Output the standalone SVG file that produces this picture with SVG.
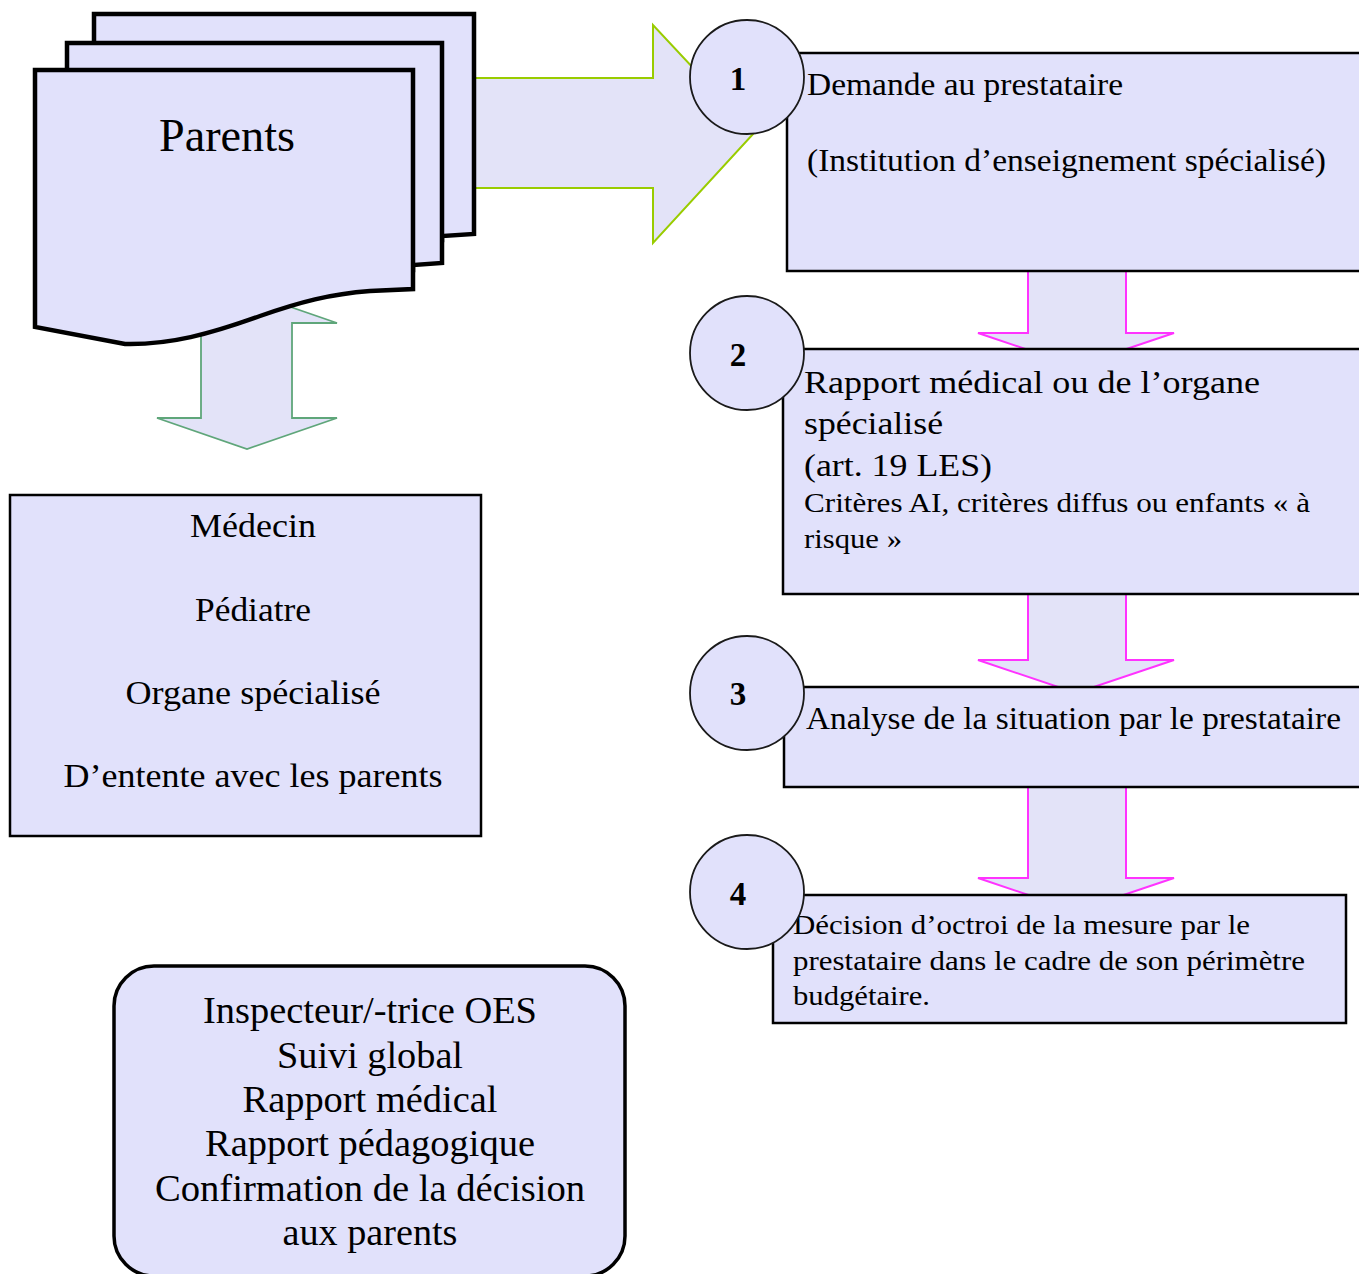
<svg xmlns="http://www.w3.org/2000/svg" width="1359" height="1274" viewBox="0 0 1359 1274">
<style>
.sheet{fill:#e1e1fb;stroke:#000;stroke-width:4.5;stroke-linejoin:miter}
.box{fill:#e1e1fb;stroke:#000;stroke-width:2.5}
.circ{fill:#e1e1fb;stroke:#1a1a1a;stroke-width:1.8}
.t{font-family:"Liberation Serif","Times New Roman",serif;fill:#000}
.num{font-family:"Liberation Serif","Times New Roman",serif;font-weight:bold;font-size:33px;text-anchor:middle;fill:#000}
.mag{fill:#e3e3f8;stroke:#ff33ff;stroke-width:2}
</style>
<rect width="1359" height="1274" fill="#fff"/>
<g id="connectors">
  <polygon id="arrow-parents-1" points="474,78 653,78 653,25 754,133 653,243 653,188 474,188" fill="#e3e3f8" stroke="#99cc00" stroke-width="2"/>
  <polygon id="arrow-parents-medecin" points="247,292 337,323 292,323 292,418 337,418 247,449 157,418 201,418 201,323 157,323" fill="#e3e3f8" stroke="#5fa67a" stroke-width="1.8"/>
  <polygon id="arrow-1-2" class="mag" points="1028,271 1126,271 1126,333 1174,333 1076,366 978,333 1028,333"/>
  <polygon id="arrow-2-3" class="mag" points="1028,594 1126,594 1126,660 1174,660 1076,693 978,660 1028,660"/>
  <polygon id="arrow-3-4" class="mag" points="1028,787 1126,787 1126,878 1174,878 1076,911 978,878 1028,878"/>
</g>
<g id="parents">
  <path class="sheet" d="M94,14 H474 V234 L442,236 V240 H94 Z"/>
  <path class="sheet" d="M67,43 H442 V263 L413,265 V270 H67 Z"/>
  <path class="sheet" d="M35,70 H413 V289 L370,291 C330,294 300,302 260,316 C210,334 170,345 125,344 L35,327 Z"/>
  <text class="t" x="227" y="151" font-size="46" text-anchor="middle" textLength="136" lengthAdjust="spacingAndGlyphs">Parents</text>
</g>
<g id="step1">
  <rect class="box" x="787" y="53" width="580" height="218"/>
  <text class="t" font-size="32" x="807" y="95" textLength="316" lengthAdjust="spacingAndGlyphs">Demande au prestataire</text>
  <text class="t" font-size="32" x="807" y="171" textLength="519" lengthAdjust="spacingAndGlyphs">(Institution d’enseignement spécialisé)</text>
  <circle class="circ" cx="747" cy="77" r="57"/>
  <text class="num" x="738" y="90">1</text>
</g>
<g id="step2">
  <rect class="box" x="783" y="349" width="584" height="245"/>
  <text class="t" font-size="32" x="804" y="393" textLength="456" lengthAdjust="spacingAndGlyphs">Rapport médical ou de l’organe</text>
  <text class="t" font-size="32" x="804" y="434" textLength="139" lengthAdjust="spacingAndGlyphs">spécialisé</text>
  <text class="t" font-size="32" x="804" y="476" textLength="188" lengthAdjust="spacingAndGlyphs">(art. 19 LES)</text>
  <text class="t" font-size="28" x="804" y="512" textLength="506" lengthAdjust="spacingAndGlyphs">Critères AI, critères diffus ou enfants « à</text>
  <text class="t" font-size="28" x="804" y="548" textLength="98" lengthAdjust="spacingAndGlyphs">risque »</text>
  <circle class="circ" cx="747" cy="353" r="57"/>
  <text class="num" x="738" y="366">2</text>
</g>
<g id="step3">
  <rect class="box" x="784" y="687" width="583" height="100"/>
  <text class="t" font-size="32" x="806" y="729" textLength="535" lengthAdjust="spacingAndGlyphs">Analyse de la situation par le prestataire</text>
  <circle class="circ" cx="747" cy="693" r="57"/>
  <text class="num" x="738" y="705">3</text>
</g>
<g id="step4">
  <rect class="box" x="773" y="895" width="573" height="128"/>
  <text class="t" font-size="28" x="793" y="934" textLength="457" lengthAdjust="spacingAndGlyphs">Décision d’octroi de la mesure par le</text>
  <text class="t" font-size="28" x="793" y="970" textLength="512" lengthAdjust="spacingAndGlyphs">prestataire dans le cadre de son périmètre</text>
  <text class="t" font-size="28" x="793" y="1005" textLength="137" lengthAdjust="spacingAndGlyphs">budgétaire.</text>
  <circle class="circ" cx="747" cy="892" r="57"/>
  <text class="num" x="738" y="905">4</text>
</g>
<g id="medecin">
  <rect class="box" x="10" y="495" width="471" height="341"/>
  <g class="t" font-size="33" text-anchor="middle">
    <text x="253" y="537" textLength="126" lengthAdjust="spacingAndGlyphs">Médecin</text>
    <text x="253" y="621" textLength="116" lengthAdjust="spacingAndGlyphs">Pédiatre</text>
    <text x="253" y="704" textLength="255" lengthAdjust="spacingAndGlyphs">Organe spécialisé</text>
    <text x="253" y="787" textLength="379" lengthAdjust="spacingAndGlyphs">D’entente avec les parents</text>
  </g>
</g>
<g id="inspecteur">
  <rect x="114" y="966" width="511" height="310" rx="40" ry="40" fill="#e1e1fb" stroke="#000" stroke-width="3.5"/>
  <g class="t" font-size="37" text-anchor="middle">
    <text x="370" y="1023" textLength="334" lengthAdjust="spacingAndGlyphs">Inspecteur/-trice OES</text>
    <text x="370" y="1068" textLength="186" lengthAdjust="spacingAndGlyphs">Suivi global</text>
    <text x="370" y="1112" textLength="255" lengthAdjust="spacingAndGlyphs">Rapport médical</text>
    <text x="370" y="1156" textLength="330" lengthAdjust="spacingAndGlyphs">Rapport pédagogique</text>
    <text x="370" y="1201" textLength="430" lengthAdjust="spacingAndGlyphs">Confirmation de la décision</text>
    <text x="370" y="1245" textLength="175" lengthAdjust="spacingAndGlyphs">aux parents</text>
  </g>
</g>
</svg>
